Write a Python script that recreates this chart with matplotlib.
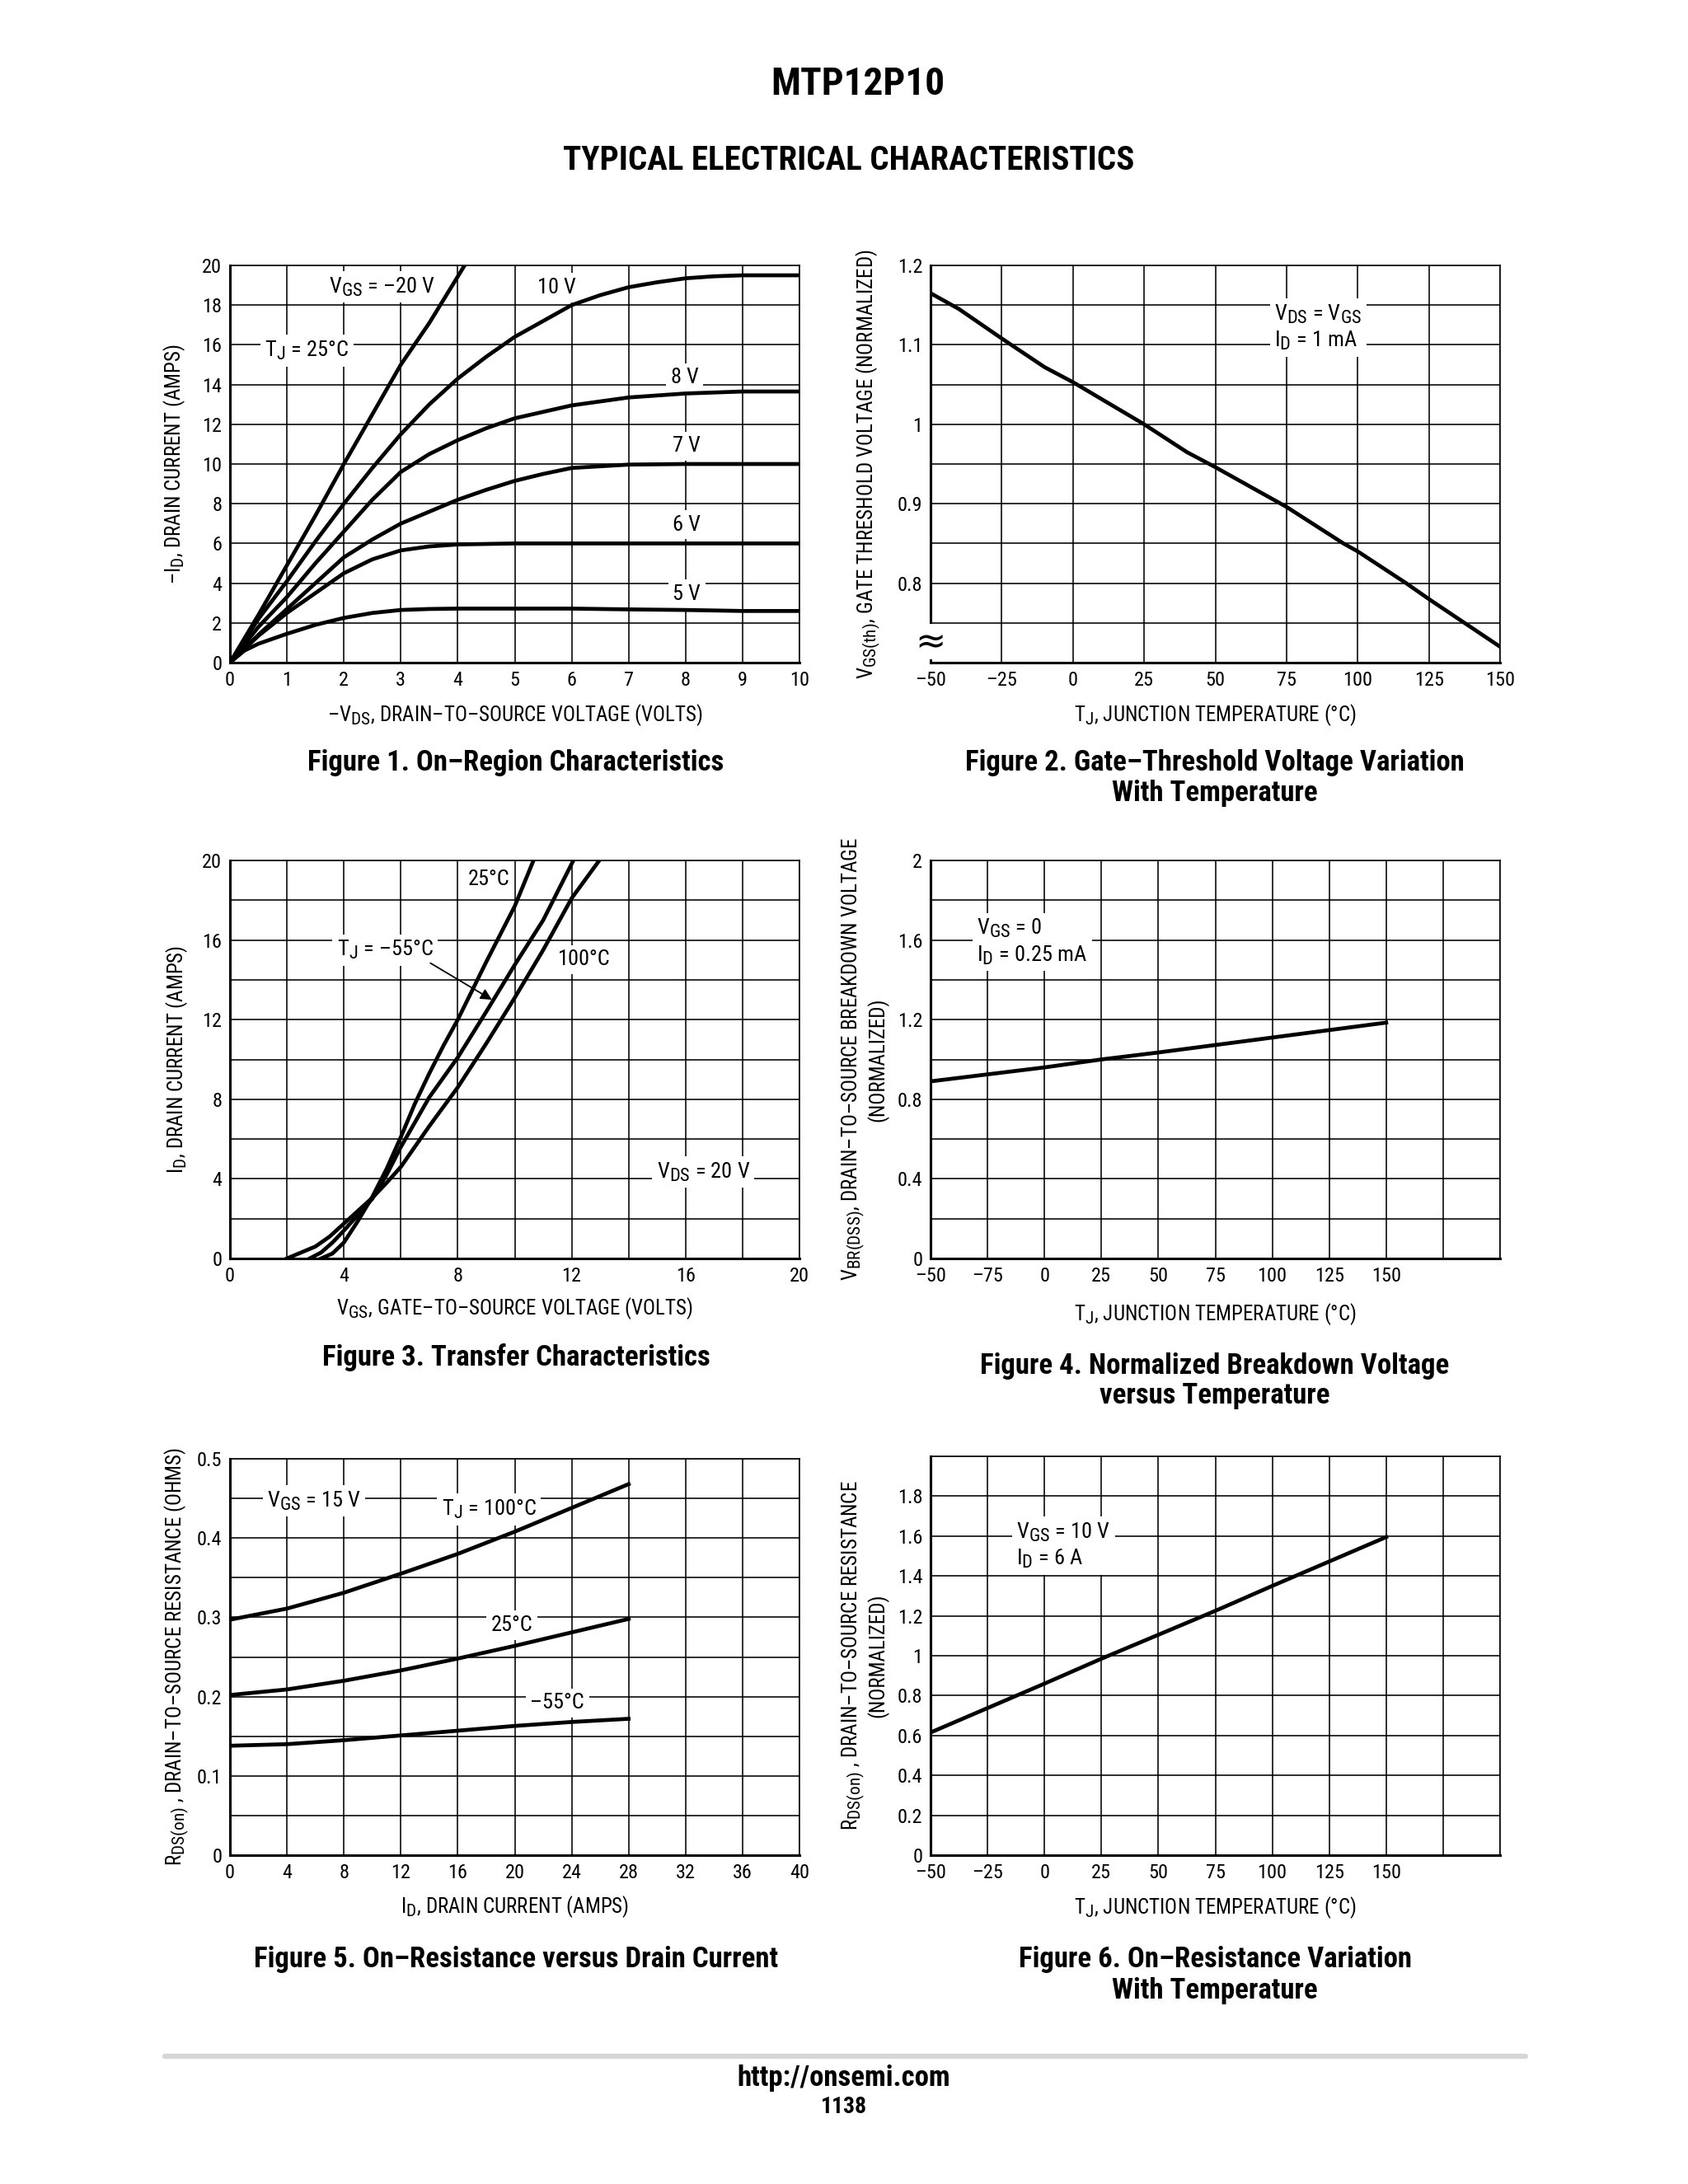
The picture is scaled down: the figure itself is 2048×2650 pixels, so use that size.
import matplotlib
matplotlib.use("Agg")
import matplotlib.pyplot as plt
from matplotlib import font_manager as fm
from matplotlib.ticker import FixedLocator, FixedFormatter, NullFormatter
from matplotlib.lines import Line2D
try:
    import matplotlib._mathtext as _mt
    _mt.SHRINK_FACTOR = 0.85
except Exception:
    pass

# ---------------- DATA ----------------
# Figure 1: On-region characteristics (-VDS in V, -ID in A)
f1_vds_m20 = [0, 0.5, 1.0, 1.5, 2.0, 2.5, 3.0, 3.5, 4.12]
f1_id_m20 = [0, 2.4, 4.9, 7.4, 10.0, 12.5, 15.0, 17.1, 20.0]
f1_vds_10 = [0, 0.5, 1, 1.5, 2, 2.5, 3, 3.5, 4, 4.5, 5, 5.5, 6, 6.5, 7, 7.5, 8, 8.5, 9, 10]
f1_id_10 = [0, 2.2, 4.1, 6.1, 8.0, 9.8, 11.5, 13.0, 14.3, 15.4, 16.4, 17.2, 18.0, 18.5, 18.9, 19.15, 19.35, 19.45, 19.5, 19.5]
f1_vds_8 = [0, 0.5, 1, 1.5, 2, 2.5, 3, 3.5, 4, 4.5, 5, 6, 7, 8, 9, 10]
f1_id_8 = [0, 1.8, 3.3, 5.0, 6.6, 8.2, 9.6, 10.5, 11.2, 11.8, 12.3, 12.95, 13.35, 13.55, 13.65, 13.65]
f1_vds_7 = [0, 0.5, 1, 1.5, 2, 2.5, 3, 3.5, 4, 4.5, 5, 5.5, 6, 7, 8, 10]
f1_id_7 = [0, 1.4, 2.7, 4.0, 5.3, 6.2, 7.0, 7.6, 8.2, 8.7, 9.15, 9.5, 9.8, 9.97, 10.0, 10.0]
f1_vds_6 = [0, 0.5, 1, 1.5, 2, 2.5, 3, 3.5, 4, 5, 6, 7, 8, 10]
f1_id_6 = [0, 1.35, 2.5, 3.5, 4.5, 5.2, 5.65, 5.85, 5.95, 6.0, 6.0, 6.0, 6.0, 6.0]
f1_vds_5 = [0, 0.25, 0.5, 1, 1.5, 2, 2.5, 3, 3.5, 4, 5, 6, 7, 8, 9, 10]
f1_id_5 = [0, 0.6, 0.95, 1.45, 1.9, 2.25, 2.5, 2.65, 2.7, 2.72, 2.72, 2.72, 2.68, 2.65, 2.6, 2.6]

# Figure 2: gate threshold voltage vs temperature
f2_tj = [-50, -40, -25, -10, 0, 25, 40, 50, 75, 95, 100, 117, 125, 150]
f2_vth = [1.165, 1.145, 1.108, 1.072, 1.053, 1.0, 0.965, 0.946, 0.896, 0.85, 0.840, 0.80, 0.78, 0.72]

# Figure 3: transfer characteristics (VGS in V, ID in A)
f3_vgs_25 = [3.2, 3.6, 4.0, 4.5, 5.0, 5.5, 6.0, 6.5, 7.0, 7.5, 8.0, 9.0, 10.0, 10.66]
f3_id_25 = [0, 0.25, 0.8, 1.9, 3.1, 4.5, 6.1, 7.8, 9.3, 10.7, 12.0, 14.9, 17.7, 20.0]
f3_vgs_m55 = [2.8, 3.2, 3.6, 4.0, 4.5, 5.0, 5.5, 6.0, 7.0, 8.0, 9.0, 10.0, 11.0, 12.06]
f3_id_m55 = [0, 0.3, 0.8, 1.4, 2.2, 3.0, 4.2, 5.6, 8.1, 10.1, 12.4, 14.75, 17.0, 20.0]
f3_vgs_100 = [2.0, 2.5, 3.0, 3.5, 4.0, 4.5, 5.0, 5.5, 6.0, 7.0, 8.0, 9.0, 10.0, 11.0, 12.0, 12.97]
f3_id_100 = [0, 0.3, 0.6, 1.1, 1.75, 2.4, 3.05, 3.8, 4.6, 6.65, 8.6, 10.8, 13.1, 15.5, 18.1, 20.0]

# Figure 4: normalized breakdown voltage vs temperature
f4_tj = [-50, 0, 25, 50, 100, 150]
f4_vbr = [0.89, 0.96, 1.0, 1.035, 1.11, 1.185]

# Figure 5: on-resistance vs drain current
f5_id = [0, 4, 8, 12, 16, 20, 24, 28]
f5_r_100 = [0.297, 0.311, 0.331, 0.355, 0.380, 0.408, 0.438, 0.468]
f5_r_25 = [0.202, 0.209, 0.220, 0.233, 0.248, 0.264, 0.281, 0.298]
f5_r_m55 = [0.138, 0.140, 0.145, 0.151, 0.157, 0.163, 0.168, 0.172]

# Figure 6: normalized on-resistance vs temperature
f6_tj = [-50, 0, 25, 75, 100, 150]
f6_r = [0.615, 0.86, 0.985, 1.225, 1.35, 1.595]

# Tick labels
f1_xt = list(range(0, 11)); f1_xl = [str(v) for v in f1_xt]
f1_yt = list(range(0, 21, 2)); f1_yl = [str(v) for v in f1_yt]
f2_xt = [-50, -25, 0, 25, 50, 75, 100, 125, 150]
f2_xl = ["–50", "–25", "0", "25", "50", "75", "100", "125", "150"]
f2_yt = [0.8, 0.9, 1.0, 1.1, 1.2]; f2_yl = ["0.8", "0.9", "1", "1.1", "1.2"]
f3_xt = [0, 4, 8, 12, 16, 20]; f3_xl = [str(v) for v in f3_xt]
f3_yt = [0, 4, 8, 12, 16, 20]; f3_yl = [str(v) for v in f3_yt]
f4_xt = [-50, -25, 0, 25, 50, 75, 100, 125, 150]
f4_xl = ["–50", "–75", "0", "25", "50", "75", "100", "125", "150"]
f4_yt = [0, 0.4, 0.8, 1.2, 1.6, 2.0]; f4_yl = ["0", "0.4", "0.8", "1.2", "1.6", "2"]
f5_xt = list(range(0, 41, 4)); f5_xl = [str(v) for v in f5_xt]
f5_yt = [0, 0.1, 0.2, 0.3, 0.4, 0.5]; f5_yl = ["0", "0.1", "0.2", "0.3", "0.4", "0.5"]
f6_xt = [-50, -25, 0, 25, 50, 75, 100, 125, 150]
f6_xl = ["–50", "–25", "0", "25", "50", "75", "100", "125", "150"]
f6_yt = [0, 0.2, 0.4, 0.6, 0.8, 1.0, 1.2, 1.4, 1.6, 1.8]
f6_yl = ["0", "0.2", "0.4", "0.6", "0.8", "1", "1.2", "1.4", "1.6", "1.8"]

# ---------------- FONTS ----------------
avail = {f.name for f in fm.fontManager.ttflist}
COND = "Liberation Sans"
for cand in ["Liberation Sans Narrow", "Roboto Condensed", "DejaVu Sans Condensed", "Liberation Sans"]:
    if cand in avail:
        COND = cand
        break
plt.rcParams["font.family"] = [COND, "DejaVu Sans"]
plt.rcParams["mathtext.fontset"] = "custom"
plt.rcParams["mathtext.rm"] = COND
plt.rcParams["mathtext.it"] = COND + ":italic"
plt.rcParams["mathtext.bf"] = COND + ":bold"

TICK_FS = 17.5
LAB_FS = 18
ANN_FS = 19
CAP_FS = 25
GRID_LW = 1.15
SPINE_LW = 2.2
CURVE_LW = 3.4

W, H, DPI = 2048, 2650, 100
fig = plt.figure(figsize=(W / DPI, H / DPI), dpi=DPI)
fig.patch.set_facecolor("white")


def axes_px(l, t, r, b):
    return fig.add_axes([l / W, 1 - b / H, (r - l) / W, (b - t) / H])


def style(ax, xlim, ylim, xt, xl, xminor, yt, yl, yminor):
    ax.set_xlim(*xlim)
    ax.set_ylim(*ylim)
    ax.xaxis.set_major_locator(FixedLocator(xt))
    ax.xaxis.set_major_formatter(FixedFormatter(xl))
    ax.yaxis.set_major_locator(FixedLocator(yt))
    ax.yaxis.set_major_formatter(FixedFormatter(yl))
    ax.xaxis.set_minor_locator(FixedLocator(xminor))
    ax.yaxis.set_minor_locator(FixedLocator(yminor))
    ax.xaxis.set_minor_formatter(NullFormatter())
    ax.yaxis.set_minor_formatter(NullFormatter())
    ax.grid(which="both", color="black", lw=GRID_LW)
    ax.set_axisbelow(True)
    ax.tick_params(which="both", length=0, labelsize=TICK_FS, pad=7)
    for s in ["top", "right"]:
        ax.spines[s].set_linewidth(GRID_LW)
    for s in ["left", "bottom"]:
        ax.spines[s].set_linewidth(SPINE_LW)


def note(ax, x, y, s, ha="center", fs=ANN_FS, pad=4):
    ax.text(x, y, s, ha=ha, va="center", fontsize=fs, zorder=2.6, linespacing=1.25,
            bbox=dict(facecolor="white", edgecolor="none", pad=pad))


def labels(ax, xlab, ylab, xly, ylx):
    ax.set_xlabel(xlab, fontsize=LAB_FS)
    ax.set_ylabel(ylab, fontsize=LAB_FS, linespacing=1.0)
    ax.xaxis.set_label_coords(0.5, xly)
    ax.xaxis.label.set_va("center")
    ax.yaxis.set_label_coords(ylx, 0.5)
    ax.yaxis.label.set_va("center")
    ax.yaxis.label.set_multialignment("center")


def frange(a, b, s):
    out = []
    v = a
    while v <= b + 1e-9:
        out.append(round(v, 6))
        v += s
    return out


# ---------------- FIGURE 1 ----------------
ax1 = axes_px(279, 322, 970, 804)
style(ax1, (0, 10), (0, 20), f1_xt, f1_xl, f1_xt, f1_yt, f1_yl, f1_yt)
for xs, ys in [(f1_vds_m20, f1_id_m20), (f1_vds_10, f1_id_10), (f1_vds_8, f1_id_8),
               (f1_vds_7, f1_id_7), (f1_vds_6, f1_id_6), (f1_vds_5, f1_id_5)]:
    ax1.plot(xs, ys, color="black", lw=CURVE_LW, zorder=3, solid_joinstyle="round")
note(ax1, 2.67, 18.92, r"V$_{\mathrm{GS}}$ = –20 V")
note(ax1, 1.35, 15.7, r"T$_{\mathrm{J}}$ = 25°C")
note(ax1, 5.73, 18.88, "10 V")
note(ax1, 7.98, 14.34, "8 V")
note(ax1, 8.02, 10.9, "7 V")
note(ax1, 8.02, 6.95, "6 V")
note(ax1, 8.02, 3.45, "5 V")
labels(ax1, r"–V$_{\mathrm{DS}}$, DRAIN–TO–SOURCE VOLTAGE (VOLTS)",
       r"–I$_{\mathrm{D}}$, DRAIN CURRENT (AMPS)", -0.131, -0.097)

# ---------------- FIGURE 2 ----------------
ax2 = axes_px(1129, 322, 1820, 804)
style(ax2, (-50, 150), (0.7, 1.2), f2_xt, f2_xl, f2_xt, f2_yt, f2_yl, frange(0.7, 1.2, 0.05))
ax2.plot(f2_tj, f2_vth, color="black", lw=CURVE_LW, zorder=3, solid_joinstyle="round")
note(ax2, 70.8, 1.122, "V$_{\\mathrm{DS}}$ = V$_{\\mathrm{GS}}$\nI$_{\\mathrm{D}}$ = 1 mA", ha="left")
ax2.text(-50, 0.726, "≈", fontsize=32, ha="center", va="center", zorder=2.7,
         family="DejaVu Sans", clip_on=False,
         bbox=dict(facecolor="white", edgecolor="none", pad=0))
labels(ax2, r"T$_{\mathrm{J}}$, JUNCTION TEMPERATURE (°C)",
       r"V$_{\mathrm{GS(th)}}$, GATE THRESHOLD VOLTAGE (NORMALIZED)", -0.131, -0.11)

# ---------------- FIGURE 3 ----------------
ax3 = axes_px(279, 1044, 970, 1527)
style(ax3, (0, 20), (0, 20), f3_xt, f3_xl, frange(0, 20, 2), f3_yt, f3_yl, frange(0, 20, 2))
for xs, ys in [(f3_vgs_25, f3_id_25), (f3_vgs_m55, f3_id_m55), (f3_vgs_100, f3_id_100)]:
    ax3.plot(xs, ys, color="black", lw=CURVE_LW, zorder=3, solid_joinstyle="round")
note(ax3, 9.1, 19.06, "25°C")
note(ax3, 5.45, 15.5, r"T$_{\mathrm{J}}$ = –55°C")
note(ax3, 12.44, 15.02, "100°C")
note(ax3, 16.62, 4.35, r"V$_{\mathrm{DS}}$ = 20 V")
ax3.annotate("", xy=(9.2, 13.0), xytext=(7.04, 14.84), zorder=3,
             arrowprops=dict(arrowstyle="-|>", color="black", lw=1.3, mutation_scale=20,
                             shrinkA=0, shrinkB=0))
labels(ax3, r"V$_{\mathrm{GS}}$, GATE–TO–SOURCE VOLTAGE (VOLTS)",
       r"I$_{\mathrm{D}}$, DRAIN CURRENT (AMPS)", -0.126, -0.093)

# ---------------- FIGURE 4 ----------------
ax4 = axes_px(1129, 1044, 1820, 1527)
style(ax4, (-50, 200), (0, 2), f4_xt, f4_xl, frange(-50, 200, 25), f4_yt, f4_yl, frange(0, 2, 0.2))
ax4.plot(f4_tj, f4_vbr, color="black", lw=CURVE_LW, zorder=3, solid_joinstyle="round")
note(ax4, -29.6, 1.59, "V$_{\\mathrm{GS}}$ = 0\nI$_{\\mathrm{D}}$ = 0.25 mA", ha="left")
labels(ax4, r"T$_{\mathrm{J}}$, JUNCTION TEMPERATURE (°C)",
       "V$_{\\mathrm{BR(DSS)}}$, DRAIN–TO–SOURCE BREAKDOWN VOLTAGE\n(NORMALIZED)", -0.139, -0.116)

# ---------------- FIGURE 5 ----------------
ax5 = axes_px(279, 1770, 970, 2251)
style(ax5, (0, 40), (0, 0.5), f5_xt, f5_xl, f5_xt, f5_yt, f5_yl, frange(0, 0.5, 0.05))
for ys in [f5_r_100, f5_r_25, f5_r_m55]:
    ax5.plot(f5_id, ys, color="black", lw=CURVE_LW, zorder=3, solid_joinstyle="round")
note(ax5, 5.9, 0.447, r"V$_{\mathrm{GS}}$ = 15 V")
note(ax5, 18.2, 0.436, r"T$_{\mathrm{J}}$ = 100°C")
note(ax5, 19.8, 0.29, "25°C")
note(ax5, 23.0, 0.192, "–55°C")
labels(ax5, r"I$_{\mathrm{D}}$, DRAIN CURRENT (AMPS)",
       r"R$_{\mathrm{DS(on)}}$ , DRAIN–TO–SOURCE RESISTANCE (OHMS)", -0.131, -0.093)

# ---------------- FIGURE 6 ----------------
ax6 = axes_px(1129, 1767, 1820, 2251)
style(ax6, (-50, 200), (0, 2), f6_xt, f6_xl, frange(-50, 200, 25), f6_yt, f6_yl, frange(0, 2, 0.2))
ax6.plot(f6_tj, f6_r, color="black", lw=CURVE_LW, zorder=3, solid_joinstyle="round")
note(ax6, -12.2, 1.553, "V$_{\\mathrm{GS}}$ = 10 V\nI$_{\\mathrm{D}}$ = 6 A", ha="left")
labels(ax6, r"T$_{\mathrm{J}}$, JUNCTION TEMPERATURE (°C)",
       "R$_{\\mathrm{DS(on)}}$ , DRAIN–TO–SOURCE RESISTANCE\n(NORMALIZED)", -0.131, -0.116)

# ---------------- PAGE TEXT ----------------
def ftext(px, py, s, fs, weight="bold"):
    fig.text(px / W, 1 - py / H, s, ha="center", va="center", fontsize=fs, fontweight=weight)

ftext(1041, 102, "MTP12P10", 34)
ftext(1030, 195, "TYPICAL ELECTRICAL CHARACTERISTICS", 29.5)
ftext(626, 926, "Figure 1. On–Region Characteristics", CAP_FS)
ftext(1474, 926, "Figure 2. Gate–Threshold Voltage Variation", CAP_FS)
ftext(1474, 963, "With Temperature", CAP_FS)
ftext(626, 1647, "Figure 3. Transfer Characteristics", CAP_FS)
ftext(1474, 1657, "Figure 4. Normalized Breakdown Voltage", CAP_FS)
ftext(1474, 1694, "versus Temperature", CAP_FS)
ftext(626, 2378, "Figure 5. On–Resistance versus Drain Current", CAP_FS)
ftext(1474, 2378, "Figure 6. On–Resistance Variation", CAP_FS)
ftext(1474, 2415, "With Temperature", CAP_FS)

fig.add_artist(Line2D([200 / W, 1851 / W], [1 - 2495 / H, 1 - 2495 / H], transform=fig.transFigure,
                      color="#d6d6d6", lw=4.5, solid_capstyle="round"))
ftext(1024, 2522, "http://onsemi.com", 25)
ftext(1024, 2557, "1138", 20)

fig.savefig("out.png", dpi=DPI, facecolor="white")
